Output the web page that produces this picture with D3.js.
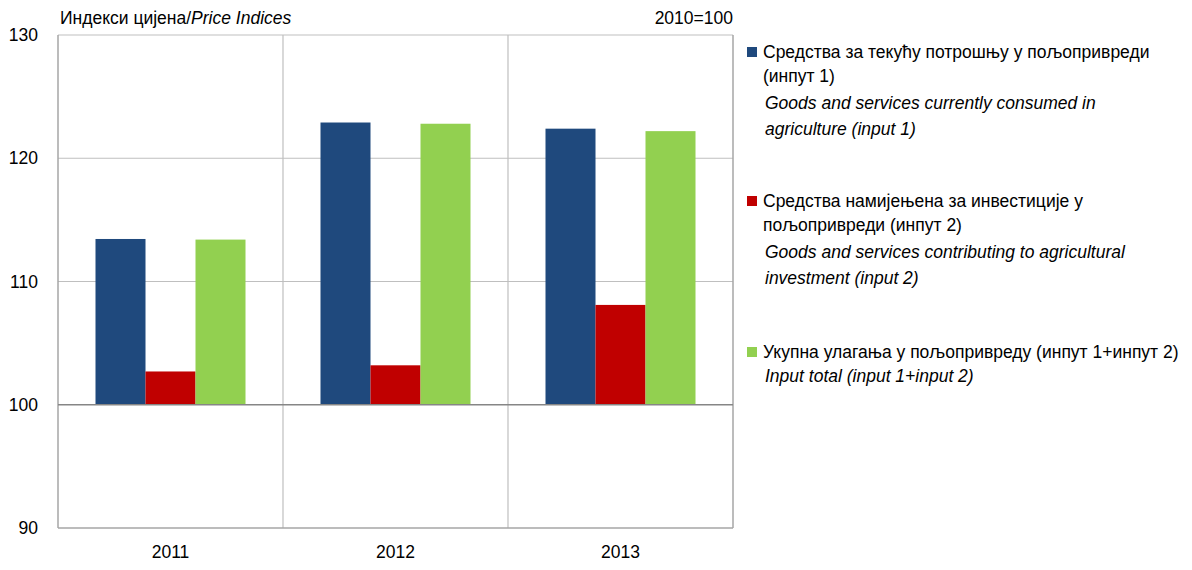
<!doctype html>
<html>
<head>
<meta charset="utf-8">
<script src="https://d3js.org/d3.v7.min.js"></script>
<style>
  body { margin: 0; background: #fff; }
  svg { font-family: "Liberation Sans", Arial, sans-serif; }
  .tick text { font-size: 17.5px; fill: #000; }
</style>
</head>
<body>
<svg id="chart" width="1192" height="570"></svg>
<script>
// data
var years = ["2011", "2012", "2013"];
var input1 = [113.45, 122.9, 122.4];
var input2 = [102.7, 103.2, 108.1];
var inputTotal = [113.4, 122.8, 122.2];
var yTicks = [90, 100, 110, 120, 130];
var seriesNames = ["input1", "input2", "total"];
var seriesColors = ["#1F497D", "#C00000", "#92D050"];
var legendLines = [
  [["Средства за текућу потрошњу у пољопривреди", false], ["(инпут 1)", false],
   ["Goods and services currently consumed in", true], ["agriculture (input 1)", true]],
  [["Средства намијењена за инвестиције у", false], ["пољопривреди (инпут 2)", false],
   ["Goods and services contributing to agricultural", true], ["investment (input 2)", true]],
  [["Укупна улагања у пољопривреду (инпут 1+инпут 2)", false], ["Input total (input 1+input 2)", true]]
];

var svg = d3.select("#chart");
var plotLeft = 58, plotRight = 733, plotTop = 35, plotBottom = 528;
var fs = 17.5;

var x = d3.scaleBand().domain(years).range([plotLeft, plotRight]);
var xs = d3.scaleBand().domain(seriesNames).range([0, x.bandwidth()]).paddingOuter(0.75).paddingInner(0);
var y = d3.scaleLinear().domain([90, 130]).range([plotBottom, plotTop]);

var rows = years.map(function(yr, i) {
  return { year: yr, values: [input1[i], input2[i], inputTotal[i]] };
});

// horizontal gridlines
svg.append("g").selectAll("line")
  .data(yTicks.filter(function(t) { return t !== 90 && t !== 100; }))
  .enter().append("line")
  .attr("x1", plotLeft).attr("x2", plotRight)
  .attr("y1", function(d) { return y(d); }).attr("y2", function(d) { return y(d); })
  .attr("stroke", "#BFBFBF").attr("stroke-width", 1.2);

// vertical category separators
svg.append("g").selectAll("line")
  .data(years.slice(1))
  .enter().append("line")
  .attr("x1", function(d) { return x(d); }).attr("x2", function(d) { return x(d); })
  .attr("y1", plotTop).attr("y2", plotBottom)
  .attr("stroke", "#BFBFBF").attr("stroke-width", 1.2);

// frame
svg.append("line").attr("x1", plotLeft).attr("x2", plotRight).attr("y1", plotBottom).attr("y2", plotBottom)
  .attr("stroke", "#A6A6A6").attr("stroke-width", 1.5);
svg.append("line").attr("x1", plotRight).attr("x2", plotRight).attr("y1", plotTop).attr("y2", plotBottom)
  .attr("stroke", "#A6A6A6").attr("stroke-width", 1.5);
svg.append("line").attr("x1", plotLeft).attr("x2", plotLeft).attr("y1", plotTop).attr("y2", plotBottom)
  .attr("stroke", "#A6A6A6").attr("stroke-width", 1.5);

// bars, drawn from 100
var groups = svg.append("g").selectAll("g")
  .data(rows).enter().append("g")
  .attr("transform", function(d) { return "translate(" + x(d.year) + ",0)"; });

groups.selectAll("rect")
  .data(function(d) { return d.values.map(function(v, i) { return { key: seriesNames[i], v: v, c: seriesColors[i] }; }); })
  .enter().append("rect")
  .attr("x", function(d) { return xs(d.key); })
  .attr("width", xs.bandwidth())
  .attr("y", function(d) { return y(Math.max(d.v, 100)); })
  .attr("height", function(d) { return Math.abs(y(d.v) - y(100)); })
  .attr("fill", function(d) { return d.c; });

// base line at 100
svg.append("line").attr("x1", plotLeft).attr("x2", plotRight).attr("y1", y(100)).attr("y2", y(100))
  .attr("stroke", "#868686").attr("stroke-width", 1.5);

// axes
var yAxis = svg.append("g")
  .attr("transform", "translate(" + plotLeft + ",0)")
  .call(d3.axisLeft(y).tickValues(yTicks).tickSize(0).tickPadding(20).tickFormat(d3.format("d")));
yAxis.select(".domain").remove();
yAxis.selectAll("text").attr("dy", "0.32em");

var xAxis = svg.append("g")
  .attr("transform", "translate(0," + plotBottom + ")")
  .call(d3.axisBottom(x).tickSize(0).tickPadding(18));
xAxis.select(".domain").remove();

// header
var hdr = svg.append("text").attr("x", 60).attr("y", 24).attr("font-size", fs);
hdr.append("tspan").text("Индекси цијена/");
hdr.append("tspan").attr("font-style", "italic").text("Price Indices");
svg.append("text").attr("x", plotRight).attr("y", 24).attr("font-size", fs)
  .attr("text-anchor", "end").text("2010=100");

// legend
var legendTop = [52, 201, 352];
var lineOffsets = [0, 24, 51, 77];
legendLines.forEach(function(lines, i) {
  var g = svg.append("g");
  g.append("rect").attr("x", 747).attr("y", legendTop[i] - 5).attr("width", 10).attr("height", 10)
    .attr("fill", seriesColors[i]);
  lines.forEach(function(l, j) {
    g.append("text")
      .attr("x", l[1] ? 765 : 763)
      .attr("y", legendTop[i] + lineOffsets[j])
      .attr("dy", "0.35em")
      .attr("font-size", fs)
      .attr("font-style", l[1] ? "italic" : "normal")
      .text(l[0]);
  });
});
</script>
</body>
</html>
